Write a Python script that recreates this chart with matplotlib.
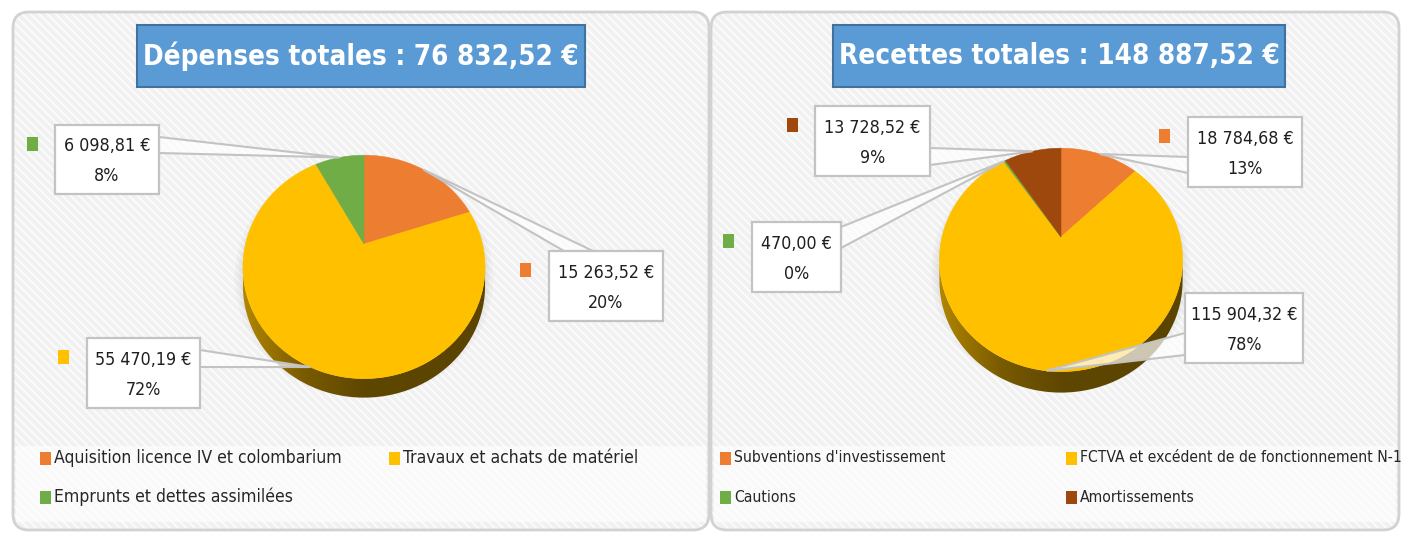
import numpy as np
import matplotlib
matplotlib.use("Agg")
import matplotlib.pyplot as plt
import matplotlib.patches as mpatches
from matplotlib.colors import LinearSegmentedColormap

plt.rcParams['font.family'] = ['DejaVu Sans']
plt.rcParams['font.stretch'] = 'condensed'
plt.rcParams['hatch.linewidth'] = 1.2

# data
dep_labels = ['Aquisition licence IV et colombarium', 'Travaux et achats de matériel',
              'Emprunts et dettes assimilées']
dep_values = [15263.52, 55470.19, 6098.81]
dep_colors = ['#ED7D31', '#FFC000', '#70AD47']

rec_labels = ["Subventions d'investissement", 'FCTVA et excédent de de fonctionnement N-1',
              'Cautions', 'Amortissements']
rec_values = [18784.68, 115904.32, 470.00, 13728.52]
rec_colors = ['#ED7D31', '#FFC000', '#70AD47', '#9E480E']

# layout (pixels): pie geometry cx, cy, a, b, k
dep_geo = (364, 244, 118.5, 107, 0.205)
rec_geo = (1061, 237, 119, 107, 0.205)
# label boxes: x0, y0, x1, y1, leader base (two points), marker x
dep_boxes = [((549, 251, 663, 321), ((564, 251), (593, 251)), 520),
             ((87, 338, 200, 408), ((200, 350), (200, 367)), 58),
             ((55, 125, 159, 194), ((159, 137), (159, 153)), 27)]
rec_boxes = [((1188, 117, 1302, 187), ((1188, 157), (1188, 173)), 1159),
             ((1185, 293, 1303, 363), ((1185, 333), (1185, 355)), 1157),
             ((752, 222, 841, 292), ((841, 227), (841, 248)), 723),
             ((815, 106, 930, 176), ((930, 148), (930, 165)), 787)]

side_cmap = LinearSegmentedColormap.from_list(
    'side', [(0, '#b38700'), (0.25, '#7a5b00'), (0.5, '#5e4700'), (1, '#5a4400')])

fig = plt.figure(figsize=(14.04, 5.33), dpi=100)
ax = fig.add_axes([0, 0, 1, 1])
ax.set_xlim(0, 1404)
ax.set_ylim(533, 0)
ax.axis('off')
renderer = fig.canvas.get_renderer()


def fit(s, width, size, **kw):
    # font size giving the text the width it has in the reference
    t = ax.text(0, 0, s, fontsize=size, **kw)
    w = t.get_window_extent(renderer).width
    t.remove()
    return size * width / w


def euro(v):
    return f"{v:,.2f}".replace(',', ' ').replace('.', ',') + ' €'


def rim(geo, th):
    cx, cy, a, b, k = geo
    u, v = np.sin(th), np.cos(th)
    w = 1 + k * v
    return cx + a * u / w, cy - b * v / w


def draw_pie(values, colors, geo, depth):
    cx, cy, a, b, k = geo
    fr = np.array(values) / sum(values)
    edges = np.concatenate([[0], np.cumsum(fr)]) * 2 * np.pi
    # soft shadow
    th = np.linspace(0, 2 * np.pi, 300)
    xs, ys = rim(geo, th)
    for s in [8, 5, 3]:
        ax.add_patch(mpatches.Polygon(np.c_[cx + (xs - cx) * (1 + s / a), cy + depth / 2 + (ys - cy) * (1 + s / b)],
                                      closed=True, fc='#999999', ec='none', alpha=0.06, zorder=2))
    # side wall
    thR = np.arccos(-k)
    th = np.linspace(thR, 2 * np.pi - thR, 200)
    xs, ys = rim(geo, th)
    verts = np.r_[np.c_[xs, ys], np.c_[xs[::-1], ys[::-1] + depth]]
    side = mpatches.Polygon(verts, closed=True, fc='none', ec='none', zorder=2)
    ax.add_patch(side)
    im = ax.imshow(np.linspace(0, 1, 256)[None, :], cmap=side_cmap, aspect='auto',
                   extent=(cx - a * 1.03, cx + a * 1.03, cy + 2 * b, cy - b), zorder=2.5)
    im.set_clip_path(side)
    # top face
    tips = []
    for i, c in enumerate(colors):
        t = np.linspace(edges[i], edges[i + 1], max(3, int(200 * fr[i])))
        px, py = rim(geo, t)
        ax.add_patch(mpatches.Polygon(np.r_[[[cx, cy]], np.c_[px, py]], closed=True,
                                      fc=c, ec=c, lw=0.4, zorder=3))
        tips.append(rim(geo, (edges[i] + edges[i + 1]) / 2))
    return fr, tips


def draw_labels(values, colors, fr, tips, boxes, fs):
    for v, c, f, tip, (box, base, mx) in zip(values, colors, fr, tips, boxes):
        x0, y0, x1, y1 = box
        ax.add_patch(mpatches.Rectangle((mx, y0 + 12), 11, 14, fc=c, ec='none', zorder=1.8))
        ax.add_patch(mpatches.Polygon([base[0], tip, base[1]], closed=True, fc=(1, 1, 1, 0.7),
                                      ec='#c3c3c3', lw=1.5, zorder=5))
        ax.add_patch(mpatches.Rectangle((x0, y0), x1 - x0, y1 - y0, fc='white', ec='#c3c3c3',
                                        lw=1.6, zorder=6))
        h = y1 - y0
        ax.text((x0 + x1) / 2, y0 + 0.31 * h, euro(v), ha='center', va='center',
                fontsize=fs, color='#1e1e1e', zorder=7)
        ax.text((x0 + x1) / 2, y0 + 0.74 * h, f"{round(100 * f)}%", ha='center', va='center',
                fontsize=fs, color='#1e1e1e', zorder=7)


def draw_panel(x0, x1, title, tx0, tx1, tw):
    y0, y1 = 12, 530
    ax.add_patch(mpatches.FancyBboxPatch((x0, y0), x1 - x0, y1 - y0,
                                         boxstyle='round,pad=0,rounding_size=16',
                                         fc='#f1f1f1', ec='#fdfdfd', lw=0, hatch='\\\\\\\\', zorder=1))
    ax.add_patch(mpatches.Rectangle((x0 + 3, 446), x1 - x0 - 6, 76, fc='white', ec='none',
                                    alpha=0.6, zorder=1.2))
    ax.add_patch(mpatches.FancyBboxPatch((x0, y0), x1 - x0, y1 - y0,
                                         boxstyle='round,pad=0,rounding_size=16',
                                         fc='none', ec='#d2d2d2', lw=2, zorder=1.3))
    ax.add_patch(mpatches.Rectangle((tx0, 25), tx1 - tx0, 62, fc='#5B9BD5', ec='#41719C',
                                    lw=1.5, zorder=6))
    fs = fit(title, tw, 22, fontweight='bold')
    ax.text((tx0 + tx1) / 2, 56, title, ha='center', va='center', fontsize=fs,
            fontweight='bold', color='white', zorder=7)


def draw_legend(labels, colors, cols, fs):
    for i, (lab, c) in enumerate(zip(labels, colors)):
        x = cols[i % 2]
        y = [458, 497][i // 2]
        ax.add_patch(mpatches.Rectangle((x, y - 6), 11, 13, fc=c, ec='none', zorder=4))
        ax.text(x + 14, y, lab, ha='left', va='center', fontsize=fs, color='#262626', zorder=4)


draw_panel(13, 709, 'Dépenses totales : ' + euro(sum(dep_values)), 137, 585, 433)
draw_panel(711, 1399, 'Recettes totales : ' + euro(sum(rec_values)), 833, 1285, 439)

box_fs = fit(euro(dep_values[0]), 97, 15)
fr, tips = draw_pie(dep_values, dep_colors, dep_geo, 19)
draw_labels(dep_values, dep_colors, fr, tips, dep_boxes, box_fs)
fr, tips = draw_pie(rec_values, rec_colors, rec_geo, 21)
draw_labels(rec_values, rec_colors, fr, tips, rec_boxes, box_fs)

draw_legend(dep_labels, dep_colors, [40, 389], fit(dep_labels[0], 289, 14))
draw_legend(rec_labels, rec_colors, [720, 1066], fit(rec_labels[0], 211, 13))

ax.set_xlim(0, 1404)
ax.set_ylim(533, 0)
fig.savefig('out.png', dpi=100)
